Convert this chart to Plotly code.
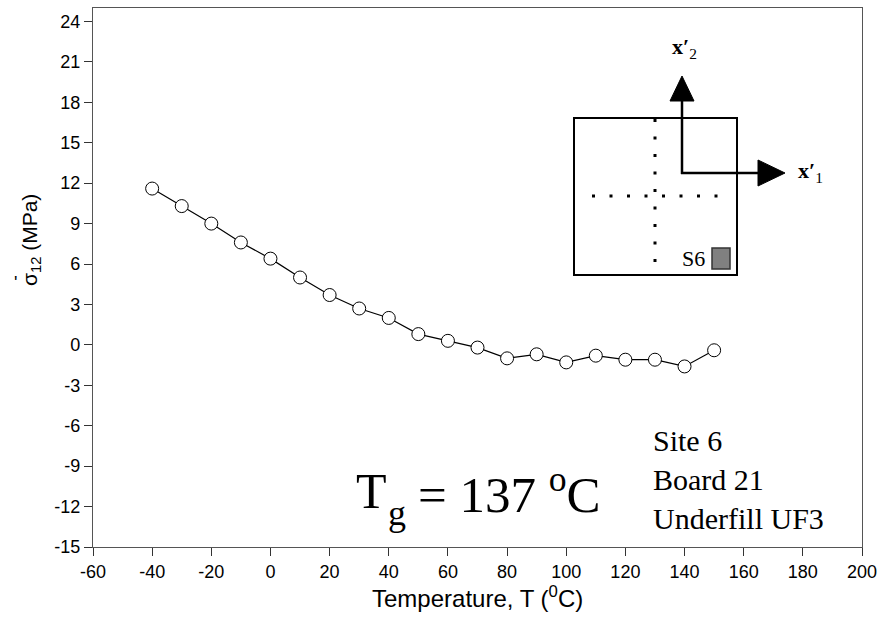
import plotly.graph_objects as go

# Measured shear stress vs temperature, Site 6 / Board 21 / Underfill UF3
temperature = [-40, -30, -20, -10, 0, 10, 20, 30, 40, 50, 60, 70, 80, 90, 100, 110, 120, 130, 140, 150]
stress_12 = [11.6, 10.3, 9.0, 7.6, 6.4, 5.0, 3.7, 2.7, 2.0, 0.8, 0.3, -0.2, -1.0, -0.7, -1.3, -0.8, -1.1, -1.1, -1.6, -0.4]

x_ticks = list(range(-60, 201, 20))
y_ticks = list(range(-15, 25, 3))
x_tick_labels = [str(v) for v in x_ticks]
y_tick_labels = [str(v) for v in y_ticks]

# Figure geometry (pixels)
W, H = 885, 636
ML, MR, MT, MB = 93, 23, 8, 89
PW, PH = W - ML - MR, H - MT - MB


def px(x):
    """Pixel column -> paper x fraction."""
    return (x - ML) / PW


def py(y):
    """Pixel row -> paper y fraction."""
    return (H - MB - y) / PH


fig = go.Figure()
fig.add_trace(go.Scatter(
    x=temperature, y=stress_12, mode="lines+markers",
    line=dict(color="black", width=1.2),
    marker=dict(symbol="circle", size=13, color="white",
                line=dict(color="black", width=1)),
    showlegend=False,
))

axis_common = dict(
    showgrid=False, zeroline=False, showline=True, mirror=True,
    linecolor="#555555", linewidth=1.3,
    ticks="outside", ticklen=8, tickwidth=1.2, tickcolor="#333333",
    tickfont=dict(family="Liberation Sans, Arial", size=18, color="black"),
)

fig.update_layout(
    width=W, height=H,
    margin=dict(l=ML, r=MR, t=MT, b=MB, pad=0),
    paper_bgcolor="white", plot_bgcolor="white",
    xaxis=dict(range=[-60, 200], tickvals=x_ticks, ticktext=x_tick_labels, **axis_common),
    yaxis=dict(range=[-15, 25], tickvals=y_ticks, ticktext=y_tick_labels, **axis_common),
)

shapes = []
# Inset: specimen outline
shapes.append(dict(type="rect", xref="paper", yref="paper",
                   x0=px(574), x1=px(737), y0=py(275), y1=py(118),
                   line=dict(color="black", width=2), fillcolor="rgba(0,0,0,0)"))
# dotted centre lines
shapes.append(dict(type="line", xref="paper", yref="paper",
                   x0=px(655), x1=px(655), y0=py(119), y1=py(262),
                   line=dict(color="black", width=3, dash="3px,14.5px")))
shapes.append(dict(type="line", xref="paper", yref="paper",
                   x0=px(592), x1=px(720), y0=py(196), y1=py(196),
                   line=dict(color="black", width=3, dash="3px,14.5px")))
# site marker square
shapes.append(dict(type="rect", xref="paper", yref="paper",
                   x0=px(712), x1=px(730), y0=py(269), y1=py(248),
                   line=dict(color="#333333", width=1.5), fillcolor="#808080"))
# coordinate arrows: stems
shapes.append(dict(type="line", xref="paper", yref="paper",
                   x0=px(682), x1=px(682), y0=py(174), y1=py(99),
                   line=dict(color="black", width=2.5)))
shapes.append(dict(type="line", xref="paper", yref="paper",
                   x0=px(681), x1=px(759), y0=py(173), y1=py(173),
                   line=dict(color="black", width=2.5)))
# arrow heads
shapes.append(dict(type="path", xref="paper", yref="paper",
                   path=f"M {px(670)} {py(101)} L {px(694)} {py(101)} L {px(682)} {py(76)} Z",
                   line=dict(color="black", width=1), fillcolor="black"))
shapes.append(dict(type="path", xref="paper", yref="paper",
                   path=f"M {px(758)} {py(160)} L {px(758)} {py(186)} L {px(785)} {py(173)} Z",
                   line=dict(color="black", width=1), fillcolor="black"))
fig.update_layout(shapes=shapes)

serif = "Liberation Serif, Times New Roman, serif"
sans = "Liberation Sans, Arial, sans-serif"
annotations = [
    dict(text="<b>x′</b><sub>2</sub>", x=px(684), y=py(48), font=dict(family=serif, size=22, color="black")),
    dict(text="<b>x′</b><sub>1</sub>", x=px(810), y=py(172), font=dict(family=serif, size=22, color="black")),
    dict(text="S6", x=px(707), y=py(258), xanchor="right", font=dict(family=serif, size=22, color="black")),
    # glass transition label: T, subscript g, then the value
    dict(text="T", x=px(354), y=py(491), xanchor="left", font=dict(family=serif, size=50, color="black")),
    dict(text="g", x=px(397), y=py(513), font=dict(family=serif, size=36, color="black")),
    dict(text="= 137 <sup>o</sup>C", x=px(416), y=py(491), xanchor="left",
         font=dict(family=serif, size=51, color="black")),
    dict(text="Site 6<br>Board 21<br>Underfill UF3", x=px(651), y=py(479), xanchor="left", align="left",
         font=dict(family=serif, size=30, color="black")),
    dict(text="Temperature, T (<sup>0</sup>C)", x=0.5, y=py(597),
         font=dict(family=sans, size=24, color="black")),
    dict(text="σ<sub>12</sub> (MPa)", x=px(31), y=py(240), textangle=-90,
         font=dict(family=sans, size=21, color="black")),
    dict(text="'", x=px(15), y=py(283),
         font=dict(family=sans, size=18, color="black")),
]
for a in annotations:
    a.setdefault("xref", "paper")
    a.setdefault("yref", "paper")
    a.setdefault("showarrow", False)
    a.setdefault("xanchor", "center")
    a.setdefault("yanchor", "middle")
fig.update_layout(annotations=annotations)

fig.write_html("out.html")
